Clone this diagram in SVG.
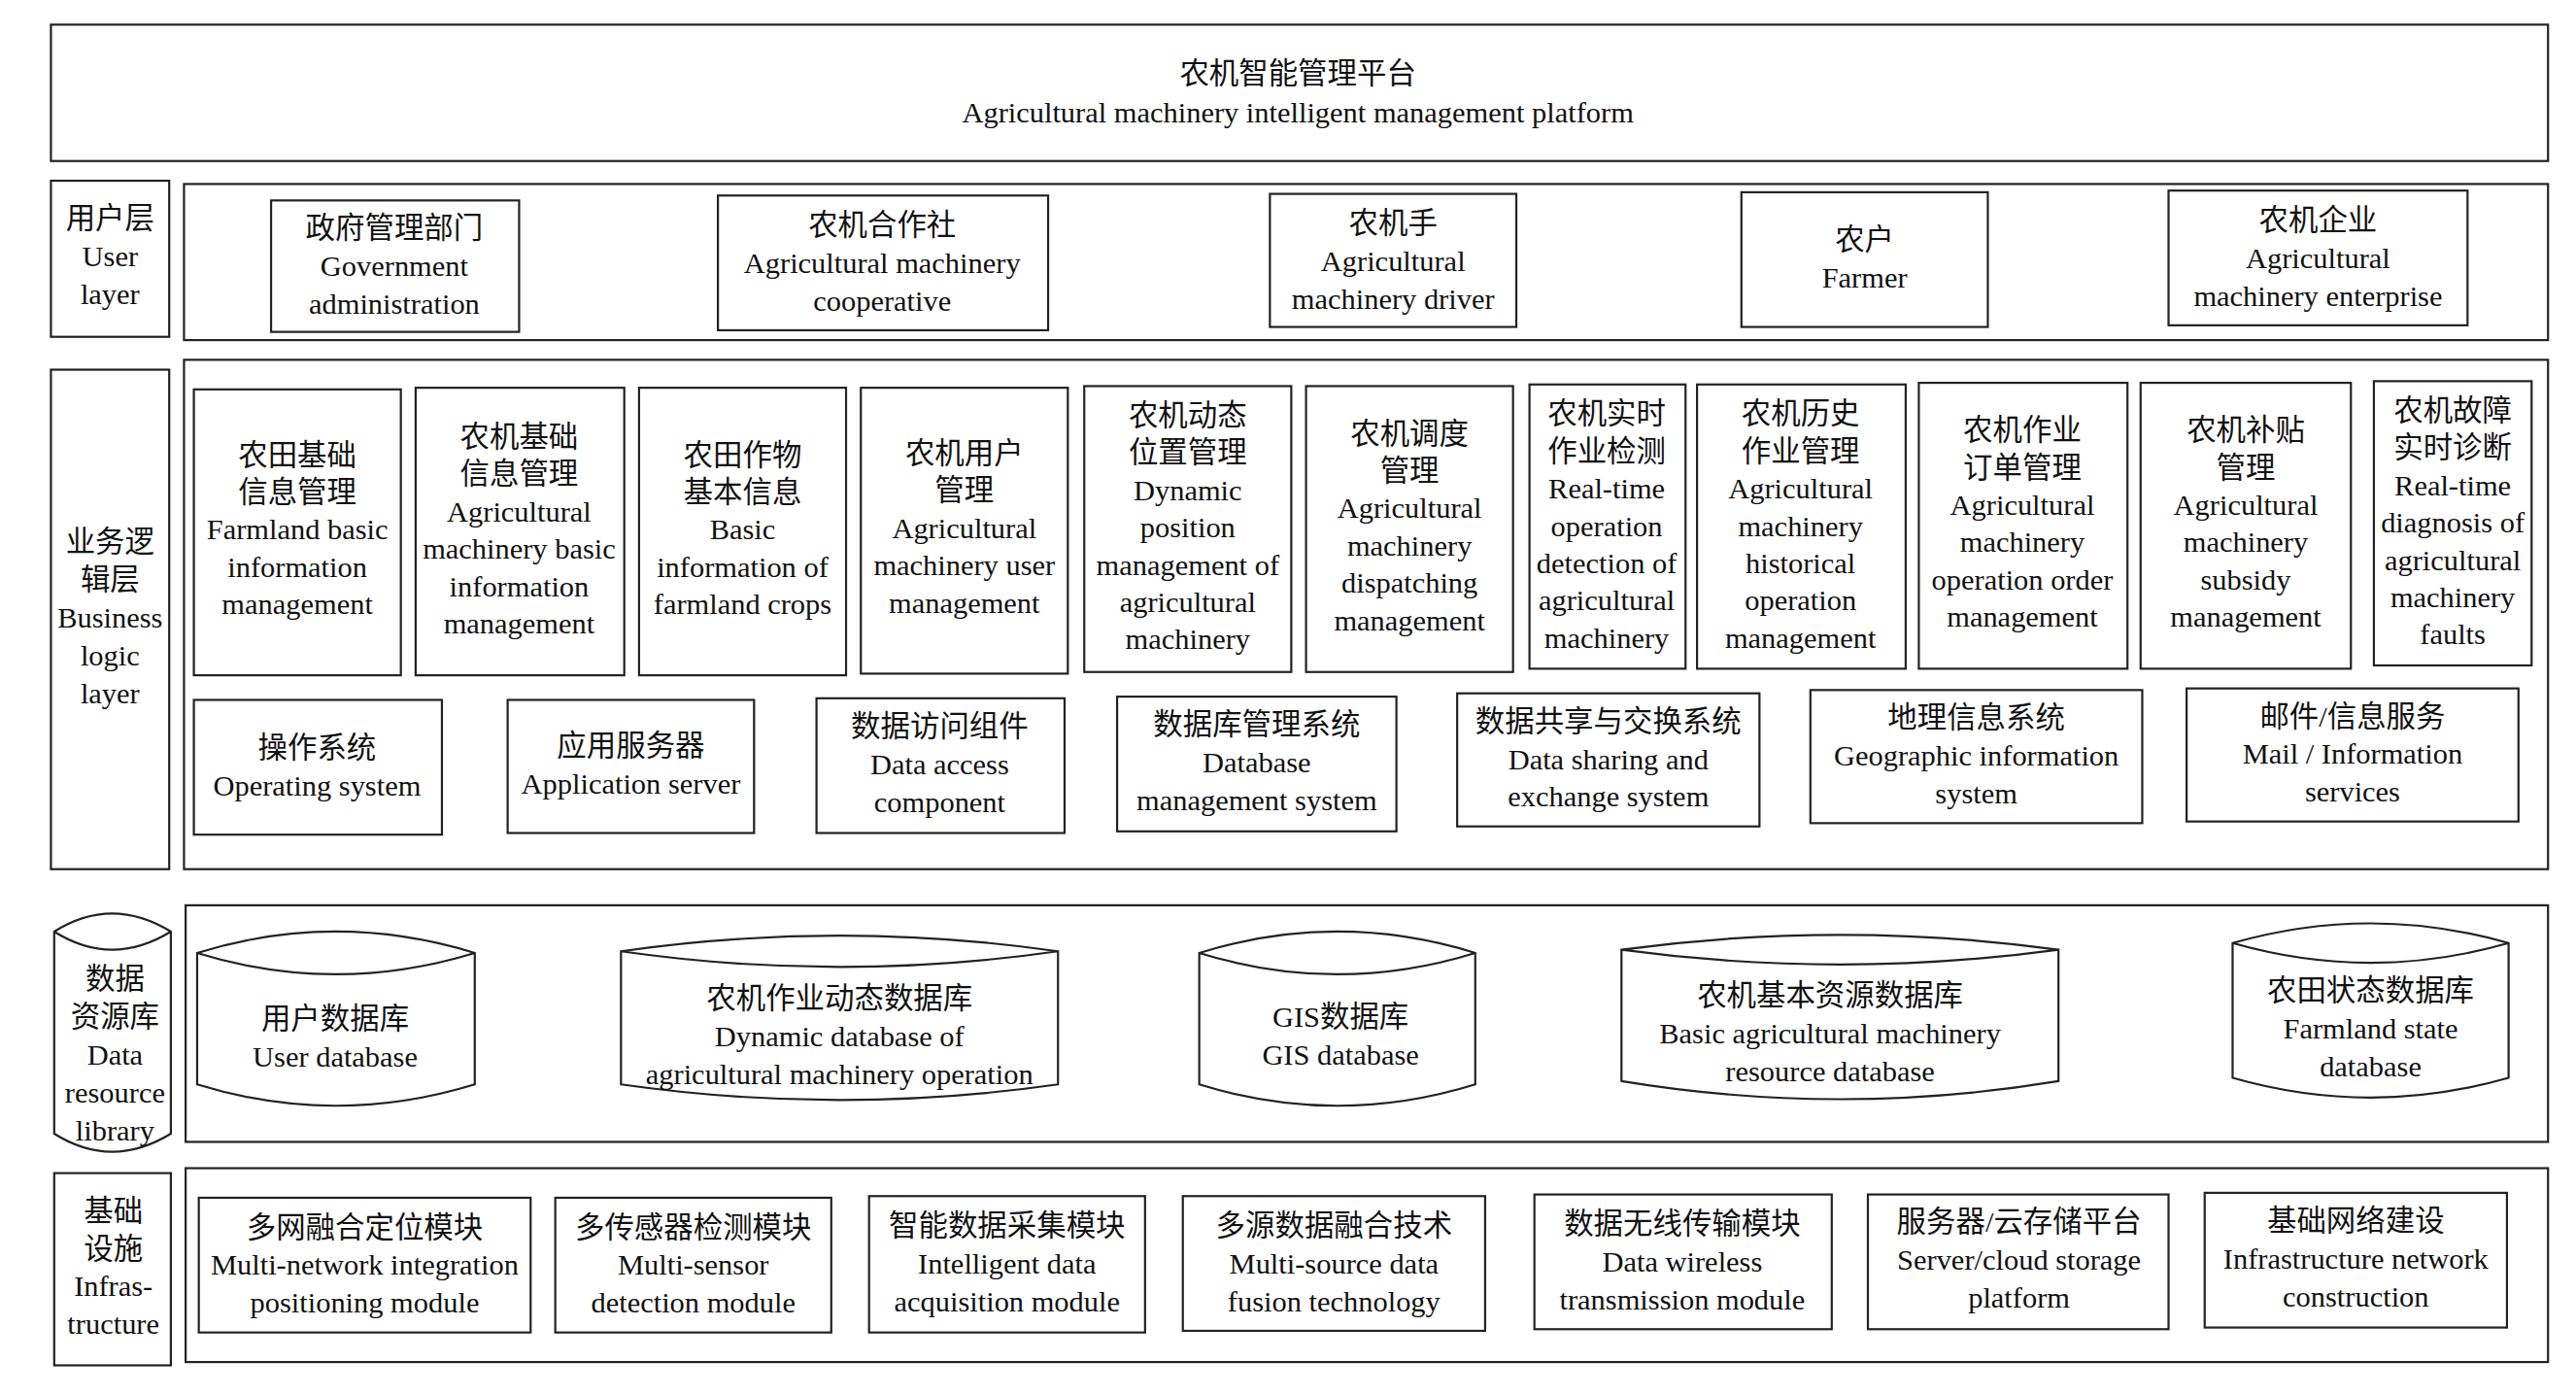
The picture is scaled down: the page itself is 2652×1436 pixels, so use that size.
<svg xmlns="http://www.w3.org/2000/svg" width="2652" height="1436" viewBox="0 0 2652 1436">
<style>
.b{fill:#fff;stroke:#222;stroke-width:1.3}
.t{font-family:"Liberation Serif","Noto Sans CJK SC",serif;font-size:18px;fill:#111;text-anchor:middle}
</style>
<rect width="2652" height="1436" fill="#fff"/>
<g transform="scale(1.6913)">
<g id="platform"><rect class="b" x="31" y="15" width="1520" height="83"/>
<text class="t" x="790" y="51">农机智能管理平台<tspan x="790" dy="23.5">Agricultural machinery intelligent management platform</tspan></text></g>

<g id="user-layer-label"><rect class="b" x="31" y="110" width="72" height="95"/>
<text class="t" x="67" y="139">用户层<tspan x="67" dy="23">User</tspan><tspan x="67" dy="23">layer</tspan></text></g>
<g id="user-layer"><rect class="b" x="112" y="112" width="1439" height="95"/></g>
<g id="gov"><rect class="b" x="165" y="122" width="151" height="80"/>
<text class="t" x="240" y="145">政府管理部门<tspan x="240" dy="23">Government</tspan><tspan x="240" dy="23">administration</tspan></text></g>
<g id="coop"><rect class="b" x="437" y="119" width="201" height="82"/>
<text class="t" x="537" y="143">农机合作社<tspan x="537" dy="23">Agricultural machinery</tspan><tspan x="537" dy="23">cooperative</tspan></text></g>
<g id="driver"><rect class="b" x="773" y="118" width="150" height="81"/>
<text class="t" x="848" y="142">农机手<tspan x="848" dy="23">Agricultural</tspan><tspan x="848" dy="23">machinery driver</tspan></text></g>
<g id="farmer"><rect class="b" x="1060" y="117" width="150" height="82"/>
<text class="t" x="1135" y="152">农户<tspan x="1135" dy="23">Farmer</tspan></text></g>
<g id="enterprise"><rect class="b" x="1320" y="116" width="182" height="82"/>
<text class="t" x="1411" y="140">农机企业<tspan x="1411" dy="23">Agricultural</tspan><tspan x="1411" dy="23">machinery enterprise</tspan></text></g>

<g id="business-label"><rect class="b" x="31" y="225" width="72" height="304"/>
<text class="t" x="67" y="336">业务逻<tspan x="67" dy="23">辑层</tspan><tspan x="67" dy="23">Business</tspan><tspan x="67" dy="23">logic</tspan><tspan x="67" dy="23">layer</tspan></text></g>
<g id="business-layer"><rect class="b" x="112" y="219" width="1439" height="310"/></g>

<g id="b1"><rect class="b" x="118" y="237" width="126" height="174"/>
<text class="t" x="181" y="283">农田基础<tspan x="181" dy="22.7">信息管理</tspan><tspan x="181" dy="22.7">Farmland basic</tspan><tspan x="181" dy="22.7">information</tspan><tspan x="181" dy="22.7">management</tspan></text></g>
<g id="b2"><rect class="b" x="253" y="236" width="127" height="175"/>
<text class="t" x="316" y="272">农机基础<tspan x="316" dy="22.7">信息管理</tspan><tspan x="316" dy="22.7">Agricultural</tspan><tspan x="316" dy="22.7">machinery basic</tspan><tspan x="316" dy="22.7">information</tspan><tspan x="316" dy="22.7">management</tspan></text></g>
<g id="b3"><rect class="b" x="389" y="236" width="126" height="175"/>
<text class="t" x="452" y="283">农田作物<tspan x="452" dy="22.7">基本信息</tspan><tspan x="452" dy="22.7">Basic</tspan><tspan x="452" dy="22.7">information of</tspan><tspan x="452" dy="22.7">farmland crops</tspan></text></g>
<g id="b4"><rect class="b" x="524" y="236" width="126" height="174"/>
<text class="t" x="587" y="282">农机用户<tspan x="587" dy="22.7">管理</tspan><tspan x="587" dy="22.7">Agricultural</tspan><tspan x="587" dy="22.7">machinery user</tspan><tspan x="587" dy="22.7">management</tspan></text></g>
<g id="b5"><rect class="b" x="660" y="235" width="126" height="174"/>
<text class="t" x="723" y="259">农机动态<tspan x="723" dy="22.7">位置管理</tspan><tspan x="723" dy="22.7">Dynamic</tspan><tspan x="723" dy="22.7">position</tspan><tspan x="723" dy="22.7">management of</tspan><tspan x="723" dy="22.7">agricultural</tspan><tspan x="723" dy="22.7">machinery</tspan></text></g>
<g id="b6"><rect class="b" x="795" y="235" width="126" height="174"/>
<text class="t" x="858" y="270">农机调度<tspan x="858" dy="22.7">管理</tspan><tspan x="858" dy="22.7">Agricultural</tspan><tspan x="858" dy="22.7">machinery</tspan><tspan x="858" dy="22.7">dispatching</tspan><tspan x="858" dy="22.7">management</tspan></text></g>
<g id="b7"><rect class="b" x="931" y="234" width="95" height="173"/>
<text class="t" x="978" y="258">农机实时<tspan x="978" dy="22.7">作业检测</tspan><tspan x="978" dy="22.7">Real-time</tspan><tspan x="978" dy="22.7">operation</tspan><tspan x="978" dy="22.7">detection of</tspan><tspan x="978" dy="22.7">agricultural</tspan><tspan x="978" dy="22.7">machinery</tspan></text></g>
<g id="b8"><rect class="b" x="1033" y="234" width="127" height="173"/>
<text class="t" x="1096" y="258">农机历史<tspan x="1096" dy="22.7">作业管理</tspan><tspan x="1096" dy="22.7">Agricultural</tspan><tspan x="1096" dy="22.7">machinery</tspan><tspan x="1096" dy="22.7">historical</tspan><tspan x="1096" dy="22.7">operation</tspan><tspan x="1096" dy="22.7">management</tspan></text></g>
<g id="b9"><rect class="b" x="1168" y="233" width="127" height="174"/>
<text class="t" x="1231" y="268">农机作业<tspan x="1231" dy="22.7">订单管理</tspan><tspan x="1231" dy="22.7">Agricultural</tspan><tspan x="1231" dy="22.7">machinery</tspan><tspan x="1231" dy="22.7">operation order</tspan><tspan x="1231" dy="22.7">management</tspan></text></g>
<g id="b10"><rect class="b" x="1303" y="233" width="128" height="174"/>
<text class="t" x="1367" y="268">农机补贴<tspan x="1367" dy="22.7">管理</tspan><tspan x="1367" dy="22.7">Agricultural</tspan><tspan x="1367" dy="22.7">machinery</tspan><tspan x="1367" dy="22.7">subsidy</tspan><tspan x="1367" dy="22.7">management</tspan></text></g>
<g id="b11"><rect class="b" x="1445" y="232" width="96" height="173"/>
<text class="t" x="1493" y="256">农机故障<tspan x="1493" dy="22.7">实时诊断</tspan><tspan x="1493" dy="22.7">Real-time</tspan><tspan x="1493" dy="22.7">diagnosis of</tspan><tspan x="1493" dy="22.7">agricultural</tspan><tspan x="1493" dy="22.7">machinery</tspan><tspan x="1493" dy="22.7">faults</tspan></text></g>

<g id="s1"><rect class="b" x="118" y="426" width="151" height="82"/>
<text class="t" x="193" y="461">操作系统<tspan x="193" dy="23">Operating system</tspan></text></g>
<g id="s2"><rect class="b" x="309" y="426" width="150" height="81"/>
<text class="t" x="384" y="460">应用服务器<tspan x="384" dy="23">Application server</tspan></text></g>
<g id="s3"><rect class="b" x="497" y="425" width="151" height="82"/>
<text class="t" x="572" y="448">数据访问组件<tspan x="572" dy="23">Data access</tspan><tspan x="572" dy="23">component</tspan></text></g>
<g id="s4"><rect class="b" x="680" y="424" width="170" height="82"/>
<text class="t" x="765" y="447">数据库管理系统<tspan x="765" dy="23">Database</tspan><tspan x="765" dy="23">management system</tspan></text></g>
<g id="s5"><rect class="b" x="887" y="422" width="184" height="81"/>
<text class="t" x="979" y="445">数据共享与交换系统<tspan x="979" dy="23">Data sharing and</tspan><tspan x="979" dy="23">exchange system</tspan></text></g>
<g id="s6"><rect class="b" x="1102" y="420" width="202" height="81"/>
<text class="t" x="1203" y="443">地理信息系统<tspan x="1203" dy="23">Geographic information</tspan><tspan x="1203" dy="23">system</tspan></text></g>
<g id="s7"><rect class="b" x="1331" y="419" width="202" height="81"/>
<text class="t" x="1432" y="442">邮件/信息服务<tspan x="1432" dy="23">Mail / Information</tspan><tspan x="1432" dy="23">services</tspan></text></g>

<g id="data-label"><path class="b" d="M33,567 Q68,545 104,567 V690 Q68,712 33,690 Z M33,567 Q68,589 104,567"/>
<text class="t" x="70" y="602">数据<tspan x="70" dy="23">资源库</tspan><tspan x="70" dy="23">Data</tspan><tspan x="70" dy="23">resource</tspan><tspan x="70" dy="23">library</tspan></text></g>
<g id="data-layer"><rect class="b" x="113" y="551" width="1438" height="144"/></g>
<g id="d1"><path class="b" d="M120,580 Q204,554 289,580 V660 Q204,686 120,660 Z M120,580 Q204,606 289,580"/>
<text class="t" x="204" y="626">用户数据库<tspan x="204" dy="23">User database</tspan></text></g>
<g id="d2"><path class="b" d="M378,579 Q511,560 644,579 V660 Q511,679 378,660 Z M378,579 Q511,598 644,579"/>
<text class="t" x="511" y="614">农机作业动态数据库<tspan x="511" dy="23">Dynamic database of</tspan><tspan x="511" dy="23">agricultural machinery operation</tspan></text></g>
<g id="d3"><path class="b" d="M730,580 Q814,554 898,580 V660 Q814,686 730,660 Z M730,580 Q814,606 898,580"/>
<text class="t" x="816" y="625">GIS数据库<tspan x="816" dy="23">GIS database</tspan></text></g>
<g id="d4"><path class="b" d="M987,578 Q1120,560 1253,578 V658 Q1120,680 987,658 Z M987,578 Q1120,596 1253,578"/>
<text class="t" x="1114" y="612">农机基本资源数据库<tspan x="1114" dy="23">Basic agricultural machinery</tspan><tspan x="1114" dy="23">resource database</tspan></text></g>
<g id="d5"><path class="b" d="M1359,574 Q1443,550 1527,574 V656 Q1443,680 1359,656 Z M1359,574 Q1443,598 1527,574"/>
<text class="t" x="1443" y="609">农田状态数据库<tspan x="1443" dy="23">Farmland state</tspan><tspan x="1443" dy="23">database</tspan></text></g>

<g id="infra-label"><rect class="b" x="33" y="714" width="71" height="117"/>
<text class="t" x="69" y="743">基础<tspan x="69" dy="23">设施</tspan><tspan x="69" dy="23">Infras-</tspan><tspan x="69" dy="23">tructure</tspan></text></g>
<g id="infra-layer"><rect class="b" x="113" y="711" width="1438" height="118"/></g>
<g id="i1"><rect class="b" x="121" y="729" width="202" height="82"/>
<text class="t" x="222" y="753">多网融合定位模块<tspan x="222" dy="23">Multi-network integration</tspan><tspan x="222" dy="23">positioning module</tspan></text></g>
<g id="i2"><rect class="b" x="338" y="729" width="168" height="82"/>
<text class="t" x="422" y="753">多传感器检测模块<tspan x="422" dy="23">Multi-sensor</tspan><tspan x="422" dy="23">detection module</tspan></text></g>
<g id="i3"><rect class="b" x="529" y="728" width="168" height="83"/>
<text class="t" x="613" y="752">智能数据采集模块<tspan x="613" dy="23">Intelligent data</tspan><tspan x="613" dy="23">acquisition module</tspan></text></g>
<g id="i4"><rect class="b" x="720" y="728" width="184" height="82"/>
<text class="t" x="812" y="752">多源数据融合技术<tspan x="812" dy="23">Multi-source data</tspan><tspan x="812" dy="23">fusion technology</tspan></text></g>
<g id="i5"><rect class="b" x="934" y="727" width="181" height="82"/>
<text class="t" x="1024" y="751">数据无线传输模块<tspan x="1024" dy="23">Data wireless</tspan><tspan x="1024" dy="23">transmission module</tspan></text></g>
<g id="i6"><rect class="b" x="1137" y="727" width="183" height="82"/>
<text class="t" x="1229" y="750">服务器/云存储平台<tspan x="1229" dy="23">Server/cloud storage</tspan><tspan x="1229" dy="23">platform</tspan></text></g>
<g id="i7"><rect class="b" x="1342" y="726" width="184" height="82"/>
<text class="t" x="1434" y="749">基础网络建设<tspan x="1434" dy="23">Infrastructure network</tspan><tspan x="1434" dy="23">construction</tspan></text></g>
<g id="connectors"/>
</g>
</svg>
